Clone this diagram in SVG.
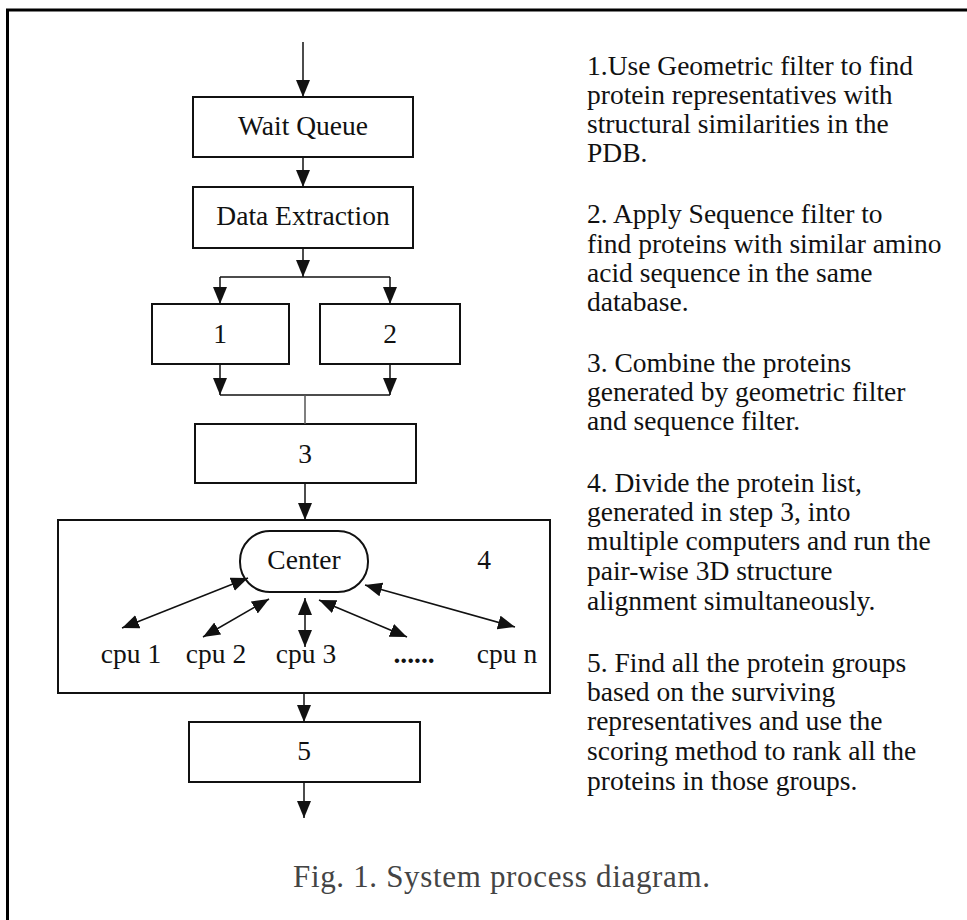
<svg xmlns="http://www.w3.org/2000/svg" width="967" height="920" viewBox="0 0 967 920">
<style>
.box{fill:#fff;stroke:#111;stroke-width:2}
.lbl{font-family:"Liberation Serif","Times New Roman",serif;font-size:27.5px;fill:#111;text-anchor:middle}
.desc{font-family:"Liberation Serif","Times New Roman",serif;font-size:27.5px;fill:#111}
.cap{font-family:"Liberation Serif","Times New Roman",serif;font-size:31px;fill:#444}
.ln{fill:none;stroke:#111;stroke-width:1.5}
.ar{fill:none;stroke:#111;stroke-width:1.5;marker-end:url(#ah)}
.dar{fill:none;stroke:#111;stroke-width:1.5;marker-end:url(#ah);marker-start:url(#ah)}
</style>
<defs>
<marker id="ah" markerUnits="userSpaceOnUse" markerWidth="18" markerHeight="15" refX="17" refY="7" orient="auto-start-reverse">
<path d="M0,0 L17,7 L0,14 z" fill="#111"/>
</marker>
</defs>
<rect width="967" height="920" fill="#fff"/>
<g id="frame">
<line x1="7.5" y1="10" x2="7.5" y2="920" stroke="#000" stroke-width="3"/>
<line x1="6" y1="10" x2="967" y2="10" stroke="#000" stroke-width="3"/>
</g>
<g id="wait-queue">
<rect class="box" x="193" y="97" width="220" height="60"/>
<text class="lbl" x="303" y="135">Wait Queue</text>
</g>
<g id="data-extraction">
<rect class="box" x="193" y="187" width="220" height="61"/>
<text class="lbl" x="303" y="225">Data Extraction</text>
</g>
<g id="step1">
<rect class="box" x="152" y="304" width="137" height="60"/>
<text class="lbl" x="220" y="343">1</text>
</g>
<g id="step2">
<rect class="box" x="320" y="304" width="140" height="60"/>
<text class="lbl" x="390" y="343">2</text>
</g>
<g id="step3">
<rect class="box" x="195" y="424" width="221" height="59"/>
<text class="lbl" x="305" y="463">3</text>
</g>
<g id="step4">
<rect class="box" x="58" y="520" width="492" height="173"/>
<text class="lbl" x="484" y="569">4</text>
</g>
<g id="center">
<rect class="box" x="240" y="531" width="128" height="61" rx="30" ry="30"/>
<text class="lbl" x="304" y="569">Center</text>
</g>
<g id="cpu1"><text class="lbl" x="131" y="663">cpu 1</text></g>
<g id="cpu2"><text class="lbl" x="216" y="663">cpu 2</text></g>
<g id="cpu3"><text class="lbl" x="306" y="663">cpu 3</text></g>
<g id="cpu-more"><text class="lbl" x="414" y="663" style="font-weight:bold">......</text></g>
<g id="cpun"><text class="lbl" x="507" y="663">cpu n</text></g>
<g id="step5">
<rect class="box" x="189" y="722" width="231" height="60"/>
<text class="lbl" x="304" y="760">5</text>
</g>
<g id="connectors">
<line class="ar" x1="303" y1="42" x2="303" y2="97"/>
<line class="ar" x1="303" y1="157" x2="303" y2="187"/>
<line class="ar" x1="303" y1="248" x2="303" y2="277"/>
<line class="ln" x1="220" y1="277" x2="390" y2="277"/>
<line class="ar" x1="220" y1="277" x2="220" y2="304"/>
<line class="ar" x1="390" y1="277" x2="390" y2="304"/>
<line class="ar" x1="220" y1="364" x2="220" y2="395"/>
<line class="ar" x1="390" y1="364" x2="390" y2="395"/>
<line class="ln" x1="220" y1="395" x2="390" y2="395"/>
<line x1="305" y1="395" x2="305" y2="424" stroke="#555" stroke-width="1.5"/>
<line class="ar" x1="305" y1="483" x2="305" y2="520"/>
<line class="dar" x1="122" y1="628" x2="248" y2="578"/>
<line class="dar" x1="203" y1="637" x2="269" y2="599"/>
<line class="dar" x1="305" y1="598" x2="305" y2="647"/>
<line class="dar" x1="319" y1="600" x2="407" y2="637"/>
<line class="dar" x1="365" y1="585" x2="515" y2="627"/>
<line class="ar" x1="304" y1="693" x2="304" y2="722"/>
<line class="ar" x1="304" y1="782" x2="304" y2="818"/>
</g>
<g id="descriptions">
<text class="desc" x="587" y="75">1.Use Geometric filter to find</text>
<text class="desc" x="587" y="104">protein representatives with</text>
<text class="desc" x="587" y="133">structural similarities in the</text>
<text class="desc" x="587" y="162">PDB.</text>
<text class="desc" x="587" y="223">2. Apply Sequence filter to</text>
<text class="desc" x="587" y="253">find proteins with similar amino</text>
<text class="desc" x="587" y="282">acid sequence in the same</text>
<text class="desc" x="587" y="311">database.</text>
<text class="desc" x="587" y="372">3. Combine the proteins</text>
<text class="desc" x="587" y="401">generated by geometric filter</text>
<text class="desc" x="587" y="430">and sequence filter.</text>
<text class="desc" x="587" y="492">4. Divide the protein list,</text>
<text class="desc" x="587" y="521">generated in step 3, into</text>
<text class="desc" x="587" y="550">multiple computers and run the</text>
<text class="desc" x="587" y="580">pair-wise 3D structure</text>
<text class="desc" x="587" y="610">alignment simultaneously.</text>
<text class="desc" x="587" y="672">5. Find all the protein groups</text>
<text class="desc" x="587" y="701">based on the surviving</text>
<text class="desc" x="587" y="730">representatives and use the</text>
<text class="desc" x="587" y="760">scoring method to rank all the</text>
<text class="desc" x="587" y="790">proteins in those groups.</text>
</g>
<text class="cap" x="293" y="887" textLength="417">Fig. 1. System process diagram.</text>
</svg>
